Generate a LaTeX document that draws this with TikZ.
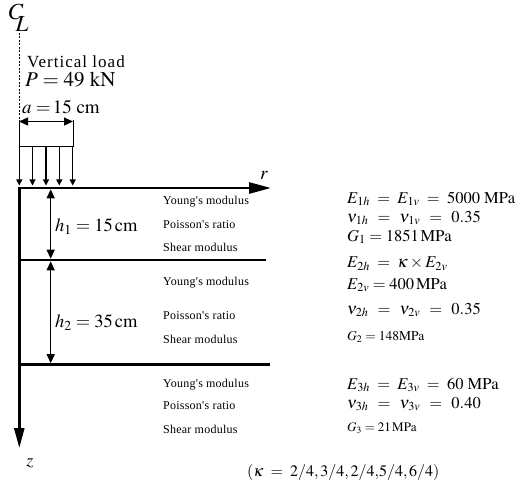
\documentclass[tikz,border=0pt]{standalone}
\usepackage{mathptmx}
\usepackage{fontspec}
\setmainfont{Liberation Serif}
\newfontfamily\spaced[LetterSpace=6]{Liberation Serif}
\newfontfamily\labfont[LetterSpace=2]{Liberation Serif}
\usetikzlibrary{arrows.meta}
\newcommand{\eqs}{\;=\;}
\newcommand{\eqn}{\;\,=\;\,}
\begin{document}
\begin{tikzpicture}[x=1pt,y=-1pt,
  axisline/.style={line width=2.6pt},
  dimarrow/.style={line width=1.3pt,{Triangle[length=9pt,width=8pt]}-{Triangle[length=9pt,width=8pt]}},
  loadarrow/.style={line width=1.1pt,-{Triangle[length=6pt,width=6pt]}},
  thinline/.style={line width=1pt},
  small/.style={font=\labfont\fontsize{12}{14}\selectfont,anchor=west,inner sep=0pt},
  prop/.style={font=\fontsize{16.5}{18}\selectfont,anchor=west,inner sep=0pt},
  lbl/.style={anchor=west,inner sep=0pt},
]
\useasboundingbox (0,0) rectangle (519,489);
% centre line symbol
\node[inner sep=0pt] (C) at (16,12) {\fontsize{23}{23}\selectfont$C$};
\node[inner sep=0pt] (L) at (22,24) {\fontsize{23}{23}\selectfont$L$};
\coordinate (cl1) at (19,33);
\coordinate (cl2) at (19,121);
\draw[dashed,line width=0.6pt,dash pattern=on 2pt off 1.5pt] (cl1) -- (cl2);
% load description
\node[lbl] (vl) at (27,62) {\spaced\fontsize{17}{19}\selectfont Vertical load};
\node[lbl] (P) at (25,80) {\fontsize{21}{23}\selectfont$P = 49\ \mathrm{kN}$};
\node[lbl] (a) at (22,107) {\fontsize{19}{21}\selectfont$a\;{=}\,15\ \mathrm{cm}$};
% width dimension
\coordinate (d1) at (19,121.5);
\coordinate (d2) at (73,121.5);
\draw[dimarrow] (d1) -- (d2);
\coordinate (t0) at (19,120);
\coordinate (t3) at (73,120);
\coordinate (t1) at (19,147);
\coordinate (t2) at (73,147);
\draw[thinline] (t0) -- (t1) -- (t2) -- (t3);
% distributed load arrows
\foreach \i/\x in {1/19.3,2/32.5,3/46,4/59.3,5/72.7}{
  \coordinate (la\i) at (\x,147);
  \coordinate (lb\i) at (\x,185.5);
  \draw[loadarrow] (la\i) -- (lb\i);
}
% axes
\coordinate (O) at (19.3,188);
\coordinate (Rend) at (271,188);
\coordinate (Zend) at (19.3,448);
\draw[axisline,{Triangle[length=20pt,width=10pt]}-{Triangle[length=22pt,width=11pt]}] (Zend) -- (O) -- (Rend);
\node[inner sep=0pt] (r) at (264,175) {\fontsize{19}{19}\selectfont$r$};
\node[inner sep=0pt] (z) at (30,463) {\fontsize{18}{18}\selectfont$z$};
% layer boundaries
\coordinate (L1a) at (19.3,260);
\coordinate (L1b) at (266,260);
\coordinate (L2a) at (19.3,364.5);
\coordinate (L2b) at (270,364.5);
\draw[axisline] (L1a) -- (L1b);
\draw[axisline] (L2a) -- (L2b);
% thickness dimensions
\coordinate (h1a) at (50.7,189.3);
\coordinate (h1b) at (50.7,258.7);
\coordinate (h2a) at (50.7,261.3);
\coordinate (h2b) at (50.7,363.2);
\draw[dimarrow] (h1a) -- (h1b);
\draw[dimarrow] (h2a) -- (h2b);
\node[lbl] (h1) at (55,227) {\fontsize{18.5}{20}\selectfont$h_1 = 15\,\mathrm{cm}$};
\node[lbl] (h2) at (55,323) {\fontsize{18.5}{20}\selectfont$h_2 = 35\,\mathrm{cm}$};
% layer 1
\node[small] (y1) at (163,202) {Young's modulus};
\node[small] (p1) at (163,225) {Poisson's ratio};
\node[small] (s1) at (163,247) {Shear modulus};
\node[prop] (e1) at (347,199) {$E_{1h} \eqs E_{1v} \eqs 5000\ \mathrm{MPa}$};
\node[prop] (n1) at (347,218) {$\nu_{1h} \eqn \nu_{1v} \eqn 0.35$};
\node[prop] (g1) at (347,237) {$G_1 = 1851\,\mathrm{MPa}$};
% layer 2
\node[small] (y2) at (163,283) {Young's modulus};
\node[small] (p2) at (163,316) {Poisson's ratio};
\node[small] (s2) at (163,339) {Shear modulus};
\node[prop] (e2a) at (347,264) {$E_{2h} \eqs \kappa \times E_{2v}$};
\node[prop] (e2b) at (347,285) {$E_{2v} = 400\,\mathrm{MPa}$};
\node[prop] (n2) at (347,310) {$\nu_{2h} \eqn \nu_{2v} \eqn 0.35$};
\node[lbl] (g2) at (347,337) {\fontsize{13.5}{15}\selectfont$G_2 = 148\mathrm{MPa}$};
% layer 3
\node[small] (y3) at (163,385) {Young's modulus};
\node[small] (p3) at (163,406) {Poisson's ratio};
\node[small] (s3) at (163,429) {Shear modulus};
\node[prop] (e3) at (347,385) {$E_{3h} \eqs E_{3v} \eqs 60\ \mathrm{MPa}$};
\node[prop] (n3) at (347,404) {$\nu_{3h} \eqn \nu_{3v} \eqn 0.40$};
\node[lbl] (g3) at (347,428) {\fontsize{13}{15}\selectfont$G_3 = 21\,\mathrm{MPa}$};
% kappa values
\node[lbl] (k) at (247,472) {\fontsize{16}{18}\selectfont$(\kappa \eqs 2/4,3/4,2/4{,}5/4,6/4)$};
\end{tikzpicture}
\end{document}
